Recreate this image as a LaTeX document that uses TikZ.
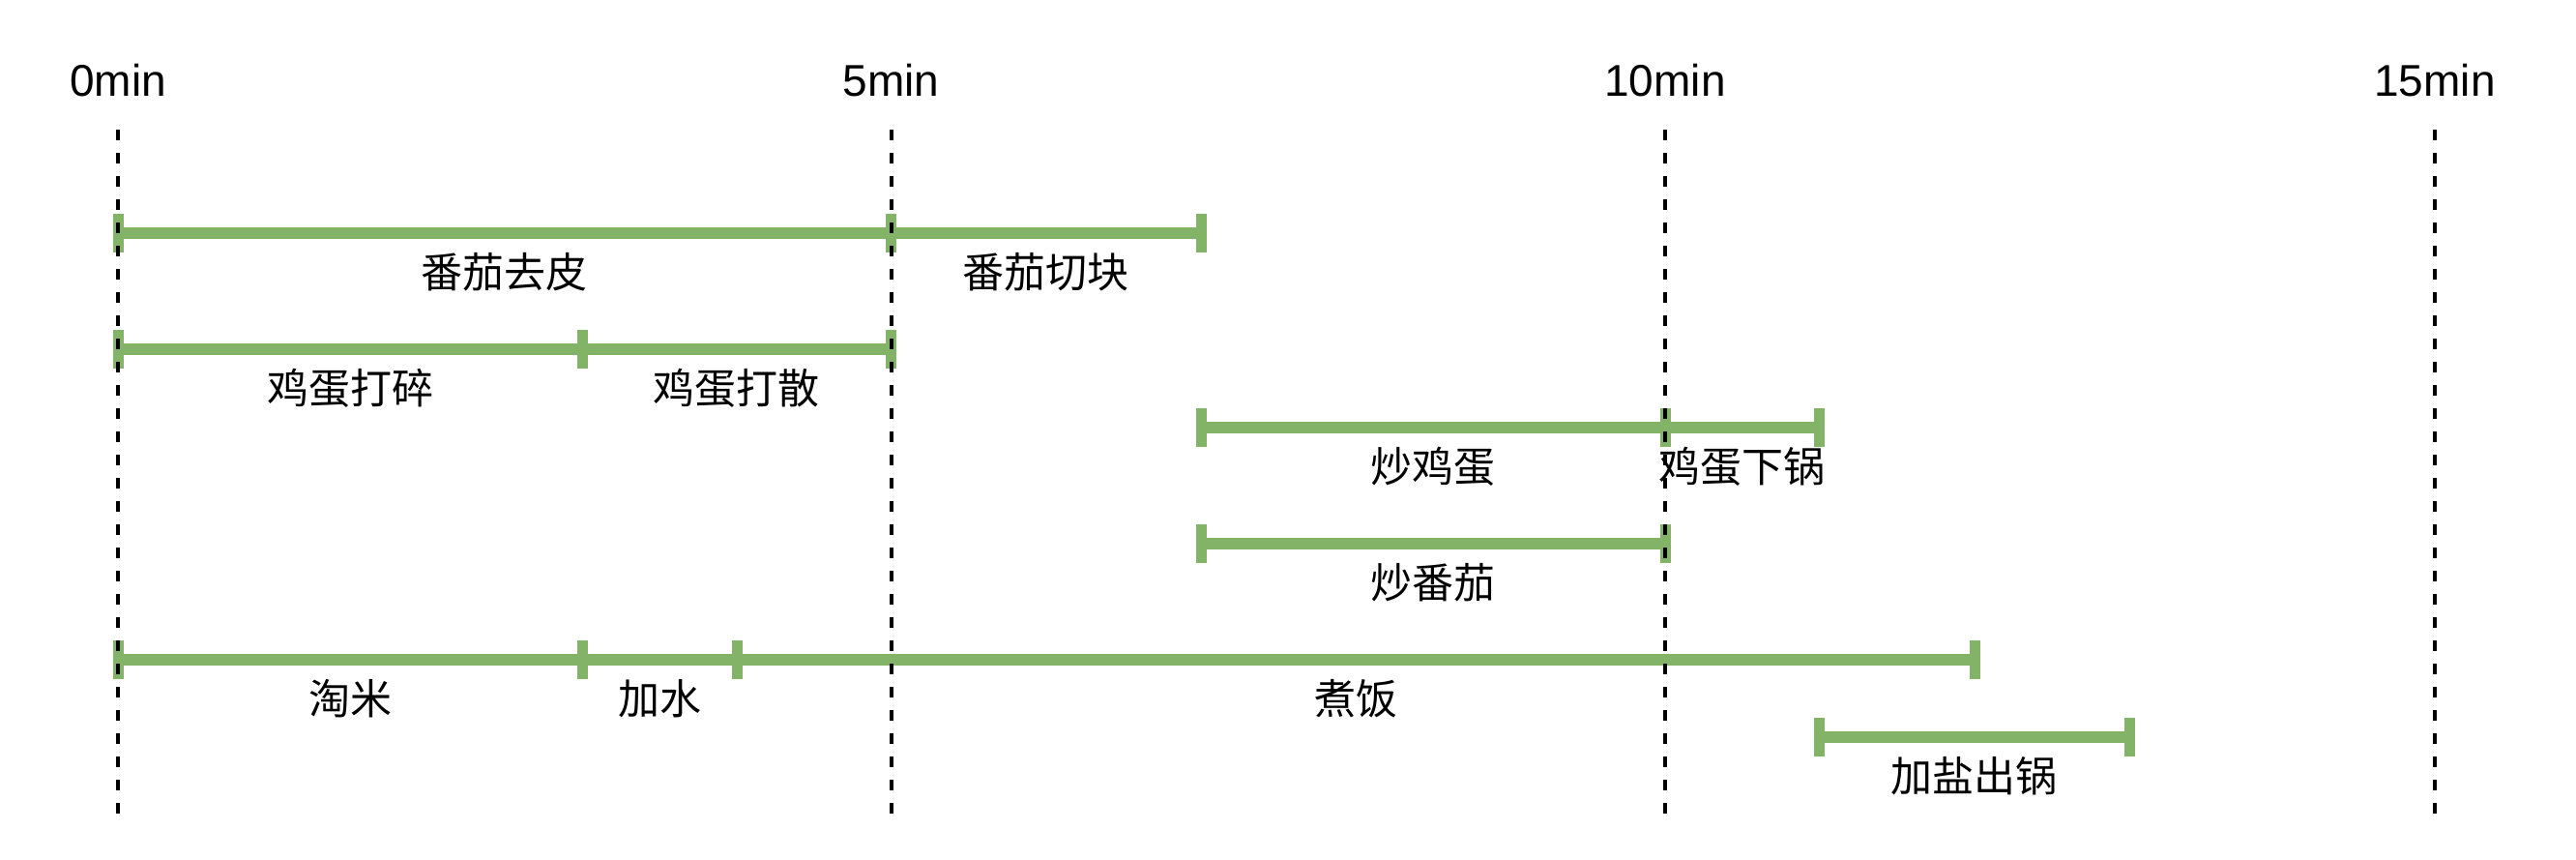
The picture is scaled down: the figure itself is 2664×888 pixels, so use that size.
\documentclass[tikz,border=0pt]{standalone}
\usepackage{fontspec}
\setmainfont{Liberation Sans}
\newfontfamily\cjk{Noto Sans CJK SC}
\usetikzlibrary{calc}
\definecolor{barg}{HTML}{82B366}
\begin{document}
\begin{tikzpicture}[x=0.5pt,y=-0.5pt,
  gridline/.style={black, line width=2pt, dash pattern=on 5.5pt off 6.5pt},
  bar/.style={barg, line width=6pt},
  capbar/.style={barg, line width=5.5pt},
  ticklabel/.style={font=\fontsize{23}{23}\selectfont, inner sep=0pt},
  task/.style={font=\cjk\fontsize{21.5}{21.5}\selectfont, inner sep=0pt}]
\useasboundingbox (0,0) rectangle (2664,888);
% time positions
\def\tA{122}\def\tC{602}\def\tD{762}\def\tE{921.5}\def\tG{1242}
\def\tJ{1722}\def\tK{1881}\def\tL{2042}\def\tM{2202}\def\tO{2518}
% grid end points
\foreach \n/\x in {g0/\tA,g5/\tE,g10/\tJ,g15/\tO}{
  \coordinate (\n t) at (\x,134);
  \coordinate (\n b) at (\x,842);
}
% tick labels
\node[ticklabel] (m0) at (\tA,83) {0min};
\node[ticklabel] (m5) at (\tE,83) {5min};
\node[ticklabel] (m10) at (\tJ,83) {10min};
\node[ticklabel] (m15) at (\tO,83) {15min};
% row points
\coordinate (r1a) at (\tA,241); \coordinate (r1b) at (\tE,241); \coordinate (r1c) at (\tG,241);
\coordinate (r2a) at (\tA,361); \coordinate (r2b) at (\tC,361); \coordinate (r2c) at (\tE,361);
\coordinate (r3a) at (\tG,442); \coordinate (r3b) at (\tJ,442); \coordinate (r3c) at (\tK,442);
\coordinate (r4a) at (\tG,562); \coordinate (r4b) at (\tJ,562);
\coordinate (r5a) at (\tA,682); \coordinate (r5b) at (\tC,682); \coordinate (r5c) at (\tD,682); \coordinate (r5d) at (\tL,682);
\coordinate (r6a) at (\tK,762); \coordinate (r6b) at (\tM,762);
% bars
\foreach \a/\b in {r1a/r1b,r1b/r1c,r2a/r2b,r2b/r2c,r3a/r3b,r3b/r3c,r4a/r4b,r5a/r5b,r5b/r5c,r5c/r5d,r6a/r6b}{
  \draw[bar] (\a) -- (\b);
}
\foreach \p in {r1a,r1b,r1c,r2a,r2b,r2c,r3a,r3b,r3c,r4a,r4b,r5a,r5b,r5c,r5d,r6a,r6b}{
  \draw[capbar] (\p) ++(0,-20) -- ++(0,40);
}
% grid lines
\foreach \n in {g0,g5,g10,g15}{
  \draw[gridline] (\n t) -- (\n b);
}
% task labels
\node[task] (t1) at ($(r1a)!0.5!(r1b)+(0,40)$) {番茄去皮};
\node[task] (t2) at ($(r1b)!0.5!(r1c)+(0,40)$) {番茄切块};
\node[task] (t3) at ($(r2a)!0.5!(r2b)+(0,40)$) {鸡蛋打碎};
\node[task] (t4) at ($(r2b)!0.5!(r2c)+(0,40)$) {鸡蛋打散};
\node[task] (t5) at ($(r3a)!0.5!(r3b)+(0,40)$) {炒鸡蛋};
\node[task] (t6) at ($(r3b)!0.5!(r3c)+(0,40)$) {鸡蛋下锅};
\node[task] (t7) at ($(r4a)!0.5!(r4b)+(0,40)$) {炒番茄};
\node[task] (t8) at ($(r5a)!0.5!(r5b)+(0,40)$) {淘米};
\node[task] (t9) at ($(r5b)!0.5!(r5c)+(0,40)$) {加水};
\node[task] (t10) at ($(r5c)!0.5!(r5d)+(0,40)$) {煮饭};
\node[task] (t11) at ($(r6a)!0.5!(r6b)+(0,40)$) {加盐出锅};
\end{tikzpicture}
\end{document}
